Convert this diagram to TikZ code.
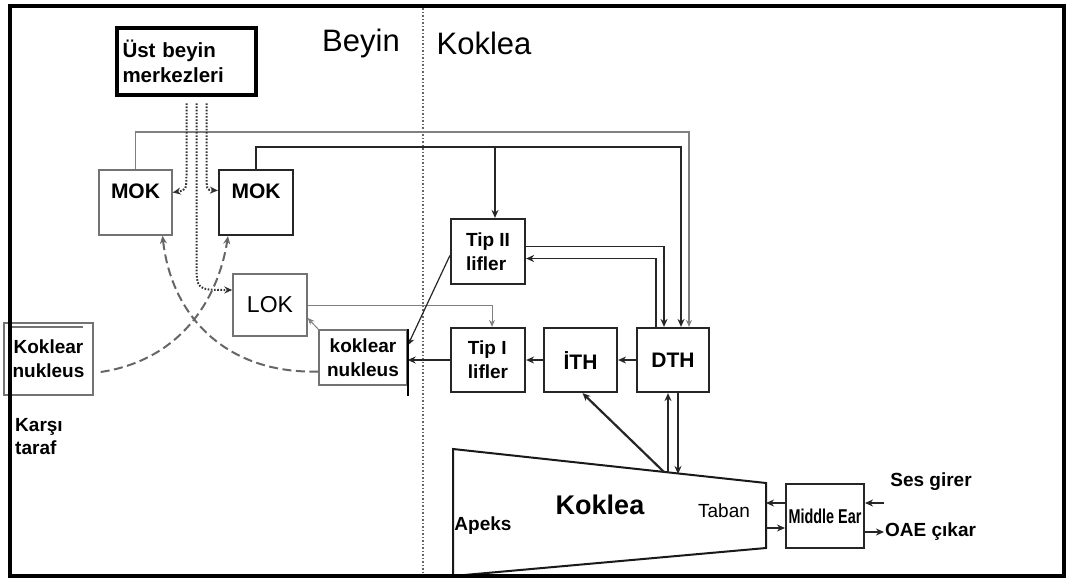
\documentclass[tikz,border=0pt]{standalone}
\usepackage{fontspec}
\usepackage{graphicx}
\setmainfont{Liberation Sans}
\usetikzlibrary{arrows.meta}
\tikzstyle{box} = [rectangle, draw=black!85, line width=2.2pt, align=center, inner sep=2pt, font=\bfseries\fontsize{19}{24}\selectfont]
\tikzstyle{lightbox} = [rectangle, draw=black!55, line width=1.4pt, align=center, inner sep=2pt, font=\bfseries\fontsize{19}{24}\selectfont]
\tikzstyle{txt} = [inner sep=1pt, align=left, font=\bfseries\fontsize{19}{23}\selectfont]
\tikzstyle{arrow} = [line width=1.7pt, draw=black!85, ->, >={Stealth[length=8pt,width=7pt]}]
\tikzstyle{greyarrow} = [line width=1.5pt, draw=black!50, ->, >={Stealth[length=7pt,width=6pt]}]
\tikzstyle{dotarrow} = [line width=2pt, draw=black!80, dash pattern=on 1.6pt off 1.6pt, ->, >={Stealth[length=8pt,width=7pt]}]
\tikzstyle{dasharrow} = [line width=2pt, draw=black!60, dash pattern=on 9pt off 4.5pt, ->, >={Stealth[length=8pt,width=7pt]}]

\begin{document}
\begin{tikzpicture}[x=1pt, y=-1pt]
\useasboundingbox (0,0) rectangle (1070,579);

% Divider and headings
\draw[dotted, line width=1.5pt, black!60] (423,8) -- (423,575);
\node (beyin) [font=\fontsize{31}{34}\selectfont] at (361,43) {Beyin};
\node (koklea) [font=\fontsize{31}{34}\selectfont] at (484,43) {Koklea};

% Brain side
\node (ust) [box, draw=black, line width=4.5pt, minimum width=139pt, minimum height=67pt, text width=128pt, align=left, font=\bfseries\fontsize{20.5}{25}\selectfont] at (186.5,61.5) {Üst beyin\\merkezleri};
\node (mokl) [lightbox, minimum width=73pt, minimum height=65pt, text height=26pt, text depth=35pt, font=\bfseries\fontsize{21}{24}\selectfont] at (135.5,202.5) {MOK};
\node (mokr) [box, minimum width=74pt, minimum height=65pt, text height=26pt, text depth=35pt, font=\bfseries\fontsize{21}{24}\selectfont] at (256,202.5) {MOK};
\node (lok) [lightbox, minimum width=74pt, minimum height=62pt, font=\fontsize{23}{24}\selectfont] at (270,305) {LOK};
\node (knr) [lightbox, minimum width=88pt, minimum height=55pt] at (363,357.5) {koklear\\nukleus};
\node (knl) [lightbox, minimum width=89pt, minimum height=72pt] at (48.5,359) {Koklear\\nukleus};
\node (kars) [txt] at (39,437) {Karşı\\taraf};

% Cochlea side
\node (tip2) [box, minimum width=74pt, minimum height=65pt, align=left] at (488,251.5) {Tip II\\lifler};
\node (tip1) [box, minimum width=74pt, minimum height=64pt, align=left] at (488,360) {Tip I\\lifler};
\node (ith) [box, minimum width=73pt, minimum height=64pt, font=\bfseries\fontsize{21}{24}\selectfont] at (580.5,360) {İTH};
\node (dth) [box, minimum width=72pt, minimum height=64pt, font=\bfseries\fontsize{21}{24}\selectfont] at (673,360) {DTH};
\node (me) [box, line width=2pt, minimum width=78pt, minimum height=64pt, font=\bfseries\fontsize{20}{24}\selectfont] at (825,516) {\scalebox{0.72}[1]{Middle Ear}};

% Cochlea shape
\draw[line width=2pt, black!90] (453,449) -- (766,483) -- (766,548) -- (453,576) -- cycle;
\coordinate (kit) at (664,472);
\coordinate (kd1) at (668,473);
\coordinate (kd2) at (678,474);
\coordinate (kb1) at (766,503);
\coordinate (kb2) at (766,528);
\coordinate (sin) at (884,503);
\node (kokleatxt) [font=\bfseries\fontsize{27}{30}\selectfont] at (600,505) {Koklea};
\node (apeks) [txt] at (483,526) {Apeks};
\node (taban) [font=\fontsize{19}{22}\selectfont] at (724,511) {Taban};
\node (ses) [txt] at (931,482) {Ses girer};
\node (oae) [txt, anchor=west] at (884,532) {OAE çıkar};

% Efferent lines
\draw[greyarrow, line width=1.8pt] (mokl.north) -- ++(0,-37) -| ([xshift=16pt]dth.north);
\draw[arrow] (mokr.north) -- ++(0,-22) -| ([xshift=8pt]dth.north);
\draw[arrow] ([xshift=7pt,yshift=71pt]tip2.north) -- ([xshift=7pt]tip2.north);
\draw[arrow] ([yshift=5pt]tip2.east) -| ([xshift=-9pt]dth.north);
\draw[arrow] ([xshift=-17pt]dth.north) |- ([yshift=-7pt]tip2.east);
\draw[greyarrow, line width=1pt] (lok.east) -| ([xshift=4pt]tip1.north);
\draw[greyarrow, line width=1pt] (knr.north west) -- ([yshift=-13pt]lok.east);

% Afferent lines
\draw[arrow, line width=1.2pt] ([yshift=-4pt]tip2.west) -- ([yshift=12pt]knr.east);
\draw[arrow, line width=2.2pt] (tip1.west) -- (tip1.west -| knr.east);
\draw[line width=2.2pt] (knr.north east) -- ([yshift=-10pt]knr.south east);
\draw[arrow, line width=2.2pt] (ith.west) -- (tip1.east);
\draw[arrow, line width=2.2pt] (dth.west) -- (ith.east);
\draw[arrow, line width=2.2pt] (kit) -- ([xshift=2pt]ith.south);
\draw[arrow] (kd1) -- (kd1 |- dth.south);
\draw[arrow] (kd2 |- dth.south) -- (kd2);
\draw[arrow] (me.west |- kb1) -- (kb1);
\draw[arrow] (kb2) -- (kb2 -| me.west);
\draw[arrow] (sin) -- (sin -| me.east);
\draw[arrow] (me.east |- oae.west) -- (oae.west);

% Descending paths
\draw[dotarrow] ([yshift=-6pt]ust.south) -- (186.5,172) .. controls (186.5,190) .. ([yshift=10pt]mokl.east);
\draw[dotarrow] ([xshift=10pt,yshift=-6pt]ust.south) -- (196.5,262) .. controls (196.5,290) .. ([yshift=15pt]lok.west);
\draw[dotarrow] ([xshift=20pt,yshift=-6pt]ust.south) -- (206.5,172) .. controls (206.5,190) .. ([yshift=12pt]mokr.west);

% Crossed paths
\draw[dasharrow] ([xshift=7pt,yshift=-13pt]knl.east) .. controls (180,360) and (218,300) .. ([xshift=-28pt]mokr.south);
\draw[dasharrow] ([yshift=-14pt]knr.west) .. controls (230,374) and (172,320) .. ([xshift=27pt]mokl.south);

% Frame
\draw[line width=4pt] (10,6) rectangle (1064,576);
\draw[line width=1.4pt, black!55] (12,327) -- (83,327);

\end{tikzpicture}
\end{document}
